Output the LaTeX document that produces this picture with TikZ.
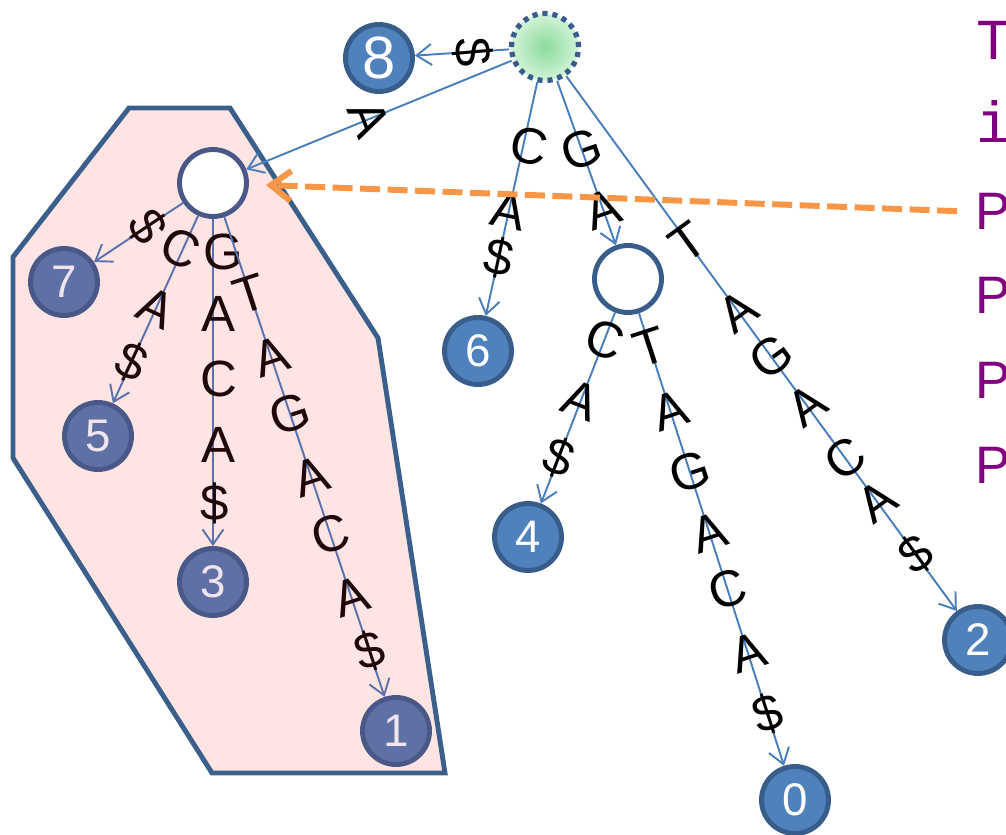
\documentclass[tikz,border=0pt]{standalone}
\usepackage{fontspec}
\setmainfont{Liberation Sans}
\newfontfamily\codefont{Liberation Mono}
\usetikzlibrary{arrows.meta}

\definecolor{nodeblue}{HTML}{4F81BD}
\definecolor{nodeline}{HTML}{385D8A}
\definecolor{edgeblue}{HTML}{4A7EBB}
\definecolor{boxpink}{HTML}{FFE4E4}
\definecolor{boxline}{HTML}{3A5F8B}
\definecolor{dimfill}{HTML}{5F70A5}
\definecolor{dimline}{HTML}{4A5888}
\definecolor{dimedge}{HTML}{5A72AC}
\definecolor{dimtext}{HTML}{F2E4EE}
\definecolor{boxtext}{HTML}{1E0808}
\definecolor{orangeline}{HTML}{F79646}
\definecolor{textpurple}{HTML}{800080}
\definecolor{rootin}{HTML}{8CDB9D}
\definecolor{rootout}{HTML}{D2F3D8}

\newcommand{\letterfont}{\fontsize{29}{29}\selectfont}
\newcommand{\numfont}{\fontsize{26}{26}\selectfont}

\begin{document}
\begin{tikzpicture}[x=0.02cm, y=-0.02cm,
  leaf/.style={circle, draw=nodeline, fill=nodeblue, line width=2.8pt, minimum size=1.34cm, inner sep=0pt, text=white, font=\numfont},
  dimleaf/.style={leaf, draw=dimline, fill=dimfill, text=dimtext},
  branch/.style={circle, draw=nodeline, fill=white, line width=2.8pt, minimum size=1.34cm, inner sep=0pt},
  rootnode/.style={circle, minimum size=1.34cm, inner sep=0pt, inner color=rootin, outer color=rootout, draw=nodeline, line width=3pt, dash pattern=on 2.9pt off 2.8pt},
  link/.style={draw=edgeblue, line width=1.1pt, -{Straight Barb[length=0.3cm, width=0.42cm]}},
  dimlink/.style={link, draw=dimedge},
  lbl/.style={font=\letterfont, inner sep=0pt, rotate=#1},
  dimlbl/.style={lbl=#1, text=boxtext},
  codetext/.style={font=\codefont\fontsize{33}{33}\selectfont, text=textpurple, inner sep=0pt, anchor=base west},
  sanstext/.style={font=\fontsize{30}{30}\selectfont, text=textpurple, inner sep=0pt, anchor=base west},
  pointer/.style={draw=orangeline, line width=3.4pt, dash pattern=on 0.4cm off 0.15cm, -{Straight Barb[length=0.4cm, width=0.6cm]}, shorten <=0.36cm, shorten >=0.34cm}]

  \useasboundingbox (0,0) rectangle (1006,834);

  % subtree under A
  \filldraw[fill=boxpink, draw=boxline, line width=2.8pt, line join=miter]
    (129,108) -- (230,108) -- (378,338) -- (445,773) -- (212,773) -- (13,458) -- (13,257) -- cycle;

  \node[rootnode] (root) at (545,47) {};
  \node[leaf, font=\fontsize{34}{34}\selectfont] (n8) at (379,58) {8};
  \node[branch, draw=dimline] (nA) at (213,183) {};
  \node[branch] (nG) at (628,279) {};
  \node[leaf] (n6) at (478,351) {6};
  \node[leaf] (n4) at (528,537) {4};
  \node[leaf] (n0) at (795,800) {0};
  \node[leaf] (n2) at (978,640) {2};
  \node[dimleaf] (n7) at (64,282) {7};
  \node[dimleaf] (n5) at (98,436) {5};
  \node[dimleaf] (n3) at (213,582) {3};
  \node[dimleaf] (n1) at (396,731) {1};

  \draw[link] (root) -- (n8) node[lbl=-85, pos=.39] {\$};
  \draw[link] (root) -- (nA) node[lbl=-68, pos=.55, yshift=0.08cm] {A};
  \draw[link] (root) -- (n6)
    node[lbl=-12, pos=.27, xshift=0.12cm] {C}
    node[lbl=-12, pos=.55] {A}
    node[lbl=-12, pos=.75] {\$};
  \draw[link] (root) -- (nG)
    node[lbl=19, pos=.42] {G}
    node[lbl=19, pos=.78] {A};
  \draw[link] (root) -- (n2)
    node[lbl=36, pos=.31] {T}
    node[lbl=36, pos=.44] {A}
    node[lbl=36, pos=.525] {G}
    node[lbl=36, pos=.615] {A}
    node[lbl=36, pos=.715] {C}
    node[lbl=36, pos=.795] {A}
    node[lbl=36, pos=.895] {\$};
  \draw[link] (nG) -- (n4)
    node[lbl=-21, pos=.14] {C}
    node[lbl=-21, pos=.46] {A}
    node[lbl=-21, pos=.76] {\$};
  \draw[link] (nG) -- (n0)
    node[lbl=18, pos=.075] {T}
    node[lbl=18, pos=.215] {A}
    node[lbl=18, pos=.35] {G}
    node[lbl=18, pos=.485] {A}
    node[lbl=18, pos=.61] {C}
    node[lbl=18, pos=.75] {A}
    node[lbl=18, pos=.885] {\$};

  \draw[dimlink] (nA) -- (n7) node[dimlbl=-56, pos=.4] {\$};
  \draw[dimlink] (nA) -- (n5)
    node[dimlbl=-25, pos=.18, xshift=-0.04cm] {C}
    node[dimlbl=-25, pos=.49] {A}
    node[dimlbl=-25, pos=.78] {\$};
  \draw[dimlink] (nA) -- (n3)
    node[dimlbl=0, pos=.1, xshift=0.2cm] {G}
    node[dimlbl=0, pos=.29, xshift=0.1cm] {A}
    node[dimlbl=0, pos=.49, xshift=0.12cm] {C}
    node[dimlbl=0, pos=.69, xshift=0.1cm] {A}
    node[dimlbl=0, pos=.87, xshift=0.04cm] {\$};
  \draw[dimlink] (nA) -- (n1)
    node[dimlbl=18, pos=.16] {T}
    node[dimlbl=18, pos=.29] {A}
    node[dimlbl=18, pos=.41] {G}
    node[dimlbl=18, pos=.54] {A}
    node[dimlbl=18, pos=.66] {C}
    node[dimlbl=18, pos=.79] {A}
    node[dimlbl=18, pos=.905] {\$};

  \node[codetext] (t1) at (976,60) {T};
  \node[codetext] (t2) at (976,143) {i};
  \node[sanstext] (p1) at (975,230) {P};
  \node[sanstext] (p2) at (975,313) {P};
  \node[sanstext] (p3) at (975,398) {P};
  \node[sanstext] (p4) at (975,483) {P};

  \draw[pointer] (p1.west) -- (nA);

\end{tikzpicture}
\end{document}
